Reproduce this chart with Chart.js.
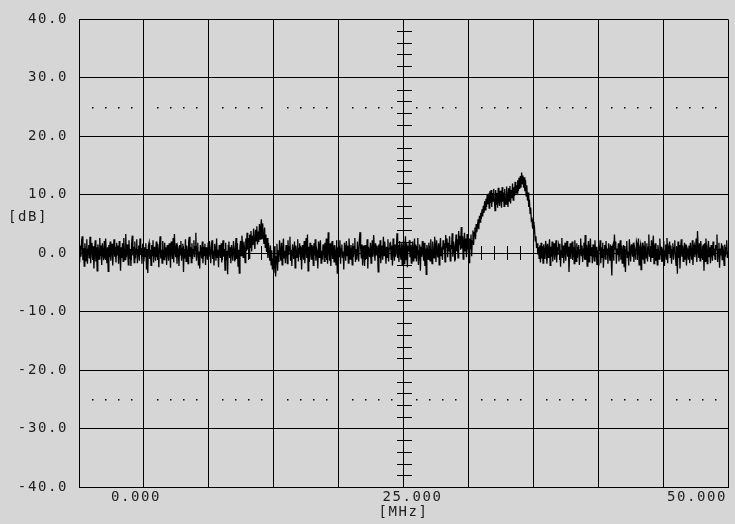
<!DOCTYPE html>
<html>
<head>
<meta charset="utf-8">
<script src="https://cdn.jsdelivr.net/npm/chart.js@4.4.1/dist/chart.umd.min.js"></script>
<style>
    html, body { margin: 0; padding: 0; background: #d6d6d6; }
    #wrap { width: 735px; height: 524px; position: relative; }
</style>
</head>
<body>
<div id="wrap"><canvas id="spectrum"></canvas></div>
<script>
// Sweep settings (one reading every 0.05 MHz)
const startMHz = 0;
const stopMHz = 50;
const stepMHz = 0.05;

// Trace levels in dB, 20 per MHz
const levelDb = [
    0.4, -1.6, 1.3, -0.6, 2.1, 2.9, -1.2, 0.9, -2.2, 1.7, 0.5, -1.3, 2.4, -1.8, 0.7, 1.4, -0.9, 2.8, -1.7, 0.6,
    1.8, -0.8, 1.2, -2.6, 0.3, 2.2, -1.4, 1.0, -3.0, 1.5, 0.6, -1.0, 2.6, -0.5, 1.3, -2.0, 1.7, 0.2, -1.2, 2.1,
    -0.9, 2.5, 0.4, -1.7, 1.0, -3.1, 1.4, -0.7, 2.0, -1.3, 0.8, 1.6, -2.1, 0.3, 2.4, -0.6, 1.1, -1.6, 1.8, -0.3,
    1.3, -1.8, 2.1, 0.6, -3.0, 1.0, -0.8, 1.7, -1.4, 2.6, 0.4, -1.1, 3.3, -0.7, 1.5, 0.3, -2.0, 2.2, -1.0, 0.7,
    -2.2, 1.4, 3.0, -0.4, 1.1, -1.6, 2.0, -0.9, 0.7, 2.4, -1.7, 0.6, 1.3, -1.3, 2.5, -0.3, 0.9, -1.8, 1.6, 0.4,
    -1.4, 1.0, -0.6, 1.7, -2.8, 0.7, -3.4, 1.3, 1.8, -1.0, 0.6, -2.1, 1.4, -0.4, 2.2, -1.6, 1.1, 0.3, -1.3, 2.0,
    -0.7, 1.6, 0.4, -2.4, 1.3, 2.9, -0.9, 0.6, -1.7, 2.1, 0.2, -1.1, 1.8, -0.6, 1.0, -2.0, 1.4, 0.7, -1.3, 1.7,
    0.8, -2.5, 2.0, 0.3, -1.0, 2.6, -1.6, 3.3, 0.4, -0.7, 1.7, -1.8, 1.1, 0.6, -2.2, 1.4, -0.3, 2.1, -1.3, 0.8,
    1.6, -3.2, 0.7, -0.9, 2.4, -1.4, 1.3, 0.4, -1.8, 2.0, 2.8, -0.6, 1.0, -1.6, 1.7, -1.0, 0.6, 2.2, -0.7, 1.1,
    3.5, -1.3, 0.8, 1.8, -2.1, 0.3, -2.6, 1.4, 0.7, -0.9, 2.0, -1.7, 1.1, -0.4, 1.6, -2.0, 1.0, 0.3, -1.1, 1.8,
    -0.6, 2.1, 0.2, -1.7, 1.3, 2.2, -1.0, 0.4, -2.1, 1.6, 0.8, -1.3, 2.5, -0.7, 0.6, -2.4, 1.4, 0.3, -0.8, 1.7,
    -1.6, 1.1, 2.2, -0.6, 0.7, -2.9, 1.8, -1.1, 0.4, -3.6, 1.3, 2.0, -0.8, 1.0, -1.7, 1.4, 0.3, -1.3, 2.1, 0.6,
    -1.4, 0.8, 2.6, -1.0, 1.7, -2.2, 0.6, -3.4, 1.1, 2.1, -0.4, 3.0, 1.3, -0.7, 2.0, 0.8, -1.6, 2.5, 0.4, 3.5,
    0.6, 2.6, -0.9, 3.2, 1.0, 3.8, 0.3, 3.0, 1.4, 4.2, 1.8, 0.7, 4.0, 2.1, 4.6, 1.5, 3.7, 1.9, 5.0, 2.4,
    4.3, 5.8, 2.5, 5.1, 3.0, 1.6, 4.4, 1.0, 3.2, 0.2, 2.6, -0.8, 1.8, 0.1, -1.3, 1.3, -2.0, 0.5, -2.8, -0.9,
    -3.4, 1.2, -2.2, -4.0, -0.6, 1.6, -3.0, 0.5, -1.5, 2.2, 0.3, -1.3, 1.8, -2.0, 0.8, 2.5, -0.8, 0.4, -1.7, 1.4,
    0.7, -1.8, 2.2, -0.3, 1.1, 2.8, -1.3, 0.6, -2.2, 1.5, 0.3, -1.0, 2.0, -2.5, 1.3, 0.4, -0.7, 2.4, -1.4, 0.8,
    1.7, -0.6, 1.0, -2.8, 1.4, 0.4, -1.1, 2.1, -1.7, 0.7, 2.6, -0.8, 3.2, -3.0, 1.1, -1.5, 1.8, 0.3, -1.0, 1.4,
    0.6, -2.1, 1.7, -0.4, 2.4, -1.3, 0.8, 0.2, -2.6, 2.0, -0.7, 1.3, 2.2, -1.7, 0.4, -1.1, 1.5, 0.7, -1.4, 1.8,
    -0.8, 2.5, 0.3, -1.8, 3.6, 0.8, -1.3, 1.7, -2.2, 0.6, 2.1, -1.0, 1.3, -1.5, 1.4, 0.4, -2.0, 2.2, -3.4, 0.7,
    1.1, -0.6, 2.2, -1.8, 0.8, 1.5, -0.8, 0.3, -2.8, 1.8, 1.0, -1.3, 2.1, -0.4, 1.3, -1.7, 2.5, 0.6, -1.0, 1.4,
    0.4, -2.0, 1.7, -0.7, 1.1, 2.6, -1.5, 0.7, -1.1, 2.0, 0.1, -1.4, 2.4, 3.6, 0.8, -0.8, 1.5, -2.1, 1.3, 0.6,
    -2.2, 1.4, 0.3, -1.0, 2.4, -2.6, 1.1, 0.4, -0.7, 1.8, -1.7, 0.8, 2.2, -0.6, 3.1, 1.0, -1.3, 1.7, -0.3, 1.3,
    0.6, -3.2, 1.5, -0.8, 2.2, -1.7, 0.4, 1.3, -1.1, 2.8, -0.4, 2.0, 0.7, -1.8, 1.1, -0.7, 2.4, -1.4, 0.8, 1.7,
    1.8, -1.0, 1.3, -2.1, 2.5, 0.3, -1.3, 1.5, -0.6, 0.8, 3.4, -0.8, 1.4, -1.5, 2.1, 0.4, -1.1, 1.7, -2.0, 1.0,
    2.1, -1.8, 0.6, 2.9, -1.1, 1.7, -2.4, 1.3, 0.3, 2.2, -0.7, 1.4, -1.7, 0.8, 2.0, -1.3, 0.4, 2.5, -0.8, 1.5,
    -1.4, 1.0, 2.6, -2.0, 0.4, 1.5, -3.0, 1.1, -0.6, 2.1, 0.3, -1.3, 1.8, -2.2, 0.8, -3.6, 1.4, 0.6, -1.0, 1.8,
    0.8, -1.3, 2.4, 0.3, -1.8, 2.0, 0.7, -0.8, 2.8, 1.3, -1.5, 2.2, 0.1, -0.7, 1.7, -2.0, 1.1, 2.6, -0.4, 1.0,
    -1.1, 2.2, 0.6, 1.7, -1.5, 3.1, 1.0, 2.5, -0.7, 1.8, 0.3, 2.9, -1.3, 1.4, 0.7, 3.4, -0.6, 2.0, 1.1, -1.4,
    1.3, 3.2, 0.3, 2.4, -0.8, 3.8, 1.5, 3.0, 0.6, 4.5, 0.8, 2.9, -1.0, 2.0, 3.5, 0.4, 2.5, -0.7, 3.3, 1.1,
    0.4, -1.6, 2.5, 0.8, 3.2, -0.5, 2.1, 3.9, 1.4, 3.5, 4.4, 2.4, 5.0, 3.6, 4.7, 5.8, 4.1, 6.4, 5.3, 6.9,
    5.9, 7.5, 6.3, 8.1, 6.9, 8.9, 7.4, 9.3, 7.9, 10.0, 8.4, 10.2, 7.7, 10.6, 8.6, 10.8, 7.9, 10.3, 8.9, 11.0,
    9.1, 7.3, 10.8, 8.4, 10.3, 7.8, 11.2, 9.0, 8.1, 10.7, 9.4, 7.8, 11.3, 8.8, 10.4, 8.0, 11.0, 9.2, 8.4, 11.4,
    9.5, 7.9, 11.1, 8.9, 11.5, 8.5, 10.8, 9.4, 11.9, 9.1, 11.3, 9.8, 12.2, 10.2, 11.6, 10.3, 12.5, 10.6, 12.9, 11.0,
    13.2, 11.2, 13.8, 11.9, 13.3, 11.2, 13.0, 10.6, 12.5, 9.8, 11.6, 9.0, 10.4, 7.9, 9.2, 6.8, 7.8, 5.6, 5.8, 4.2,
    5.4, 3.4, 4.0, 2.1, 2.9, 0.9, 1.7, -0.2, 1.0, -0.9, 1.3, -1.6, 1.8, -0.9, 1.2, -1.7, 1.5, 0.3, -1.0, 2.1,
    0.8, -1.8, 1.6, -0.7, 0.3, 2.4, -2.1, 1.1, -0.6, 2.0, -1.4, 0.7, 1.7, -1.1, 0.4, 2.2, -1.6, 1.0, -0.3, 1.4,
    0.7, 1.6, -2.3, 0.4, 2.6, -0.8, 1.3, -1.7, 0.6, 1.8, -1.3, 0.8, 2.1, -0.6, 1.1, -3.2, 0.3, 1.7, -1.0, 0.8,
    2.0, -0.7, 1.1, -1.8, 2.2, 0.3, -1.4, 1.7, -0.8, 1.0, 1.4, -2.0, 0.6, 2.5, -0.4, 1.3, -1.5, 0.7, 1.8, -1.1,
    3.1, -1.1, 1.4, -2.2, 0.6, 2.1, -1.5, 0.8, 2.5, -0.4, 1.0, -1.7, 1.5, 0.3, -1.3, 2.2, -0.7, 1.1, -2.0, 0.6,
    -2.0, 1.3, 0.4, 2.2, -1.7, 1.0, -0.7, 1.8, -2.5, 0.6, 1.4, -1.0, 2.1, -0.3, 0.8, -1.8, 1.7, 0.4, -1.3, 1.5,
    -0.8, -3.8, 1.1, 1.5, -1.3, 3.2, 0.7, 2.0, -1.8, 0.8, -0.3, 1.7, -1.4, 0.6, 2.2, -1.1, 1.3, -1.7, 0.4, 1.4,
    -2.3, 0.7, -3.2, 1.1, 2.1, -0.8, 0.3, -2.1, 2.4, 0.6, -1.4, 1.5, 0.8, -0.6, 1.8, -1.5, 1.0, 0.3, -1.1, 2.0,
    1.5, -0.4, 2.5, -2.0, 0.8, 1.4, -2.8, 0.7, 1.8, -1.1, 1.3, -1.7, 2.1, 0.4, -0.8, 1.7, -1.4, 1.0, 3.2, -0.6,
    0.6, -1.5, 2.2, -0.7, 1.3, 3.0, -1.8, 1.0, 1.7, -1.3, 0.7, -2.0, 1.4, 0.3, -1.0, 2.5, -0.4, 1.1, -1.5, 0.8,
    -1.3, 2.1, -2.2, 0.4, 1.5, -1.0, 2.6, -1.7, 0.8, 0.1, 2.0, -0.7, 1.3, -1.8, 0.6, 1.7, -1.1, 1.0, 2.2, -0.6,
    -2.1, 1.1, -3.5, 2.0, -0.8, 1.4, -2.6, 0.7, 2.4, -0.6, 1.3, -1.4, 0.4, 1.8, -1.0, 1.5, -2.1, 0.8, 0.3, -1.1,
    1.3, -1.7, 1.8, 0.3, -1.1, 2.2, -2.0, 1.0, 1.4, -0.7, 0.6, 2.5, -1.5, 3.8, 0.8, -0.8, 1.7, -1.3, 2.1, 0.4,
    -0.8, 0.7, 1.5, -3.0, 1.7, -1.4, 2.5, 0.4, -1.8, 1.1, 2.1, -0.6, 1.0, -1.7, 1.4, 0.3, -1.3, 2.0, -0.4, 0.8,
    -1.0, 1.4, 0.6, 3.2, -1.5, 0.6, 1.8, -2.5, 0.8, -0.4, 1.7, -1.1, 1.3, 0.3, -2.1, 1.5, -0.6, 1.0, 2.2, -0.8,
    0.3
];

// Axis labels as shown on the instrument
const freqLabels = ['0.000', '25.000', '50.000'];
const freqMarks = [0, 25, 50];
const dbMin = -40;
const dbMax = 40;
const refLineDb = [25, -25];

const textColor = '#1e1e1e';
const monoFont = "'DejaVu Sans Mono', 'Liberation Mono', monospace";

const points = levelDb.map((v, i) => ({ x: startMHz + i * stepMHz, y: v }));

// Center axis ticks, dotted reference lines and the text labels
const screenDecor = {
    id: 'screenDecor',
    beforeDraw(chart) {
        chart.ctx.letterSpacing = '1.6px';
    },
    beforeDatasetsDraw(chart) {
        const { ctx, scales: { x, y } } = chart;
        const xc = Math.round(x.getPixelForValue(25));
        const y0 = Math.round(y.getPixelForValue(0));
        ctx.save();
        ctx.strokeStyle = '#000';
        ctx.lineWidth = 1;
        ctx.beginPath();
        // 2 dB ticks on the center line
        for (let d = dbMin + 2; d < dbMax; d += 2) {
            if (d % 10 === 0) continue;
            const py = Math.round(y.getPixelForValue(d)) + 0.5;
            ctx.moveTo(xc - 7, py);
            ctx.lineTo(xc + 8, py);
        }
        // 1 MHz ticks on the 0 dB line
        for (let f = startMHz + 1; f < stopMHz; f++) {
            if (f % 5 === 0) continue;
            const px = Math.round(x.getPixelForValue(f)) + 0.5;
            ctx.moveTo(px, y0 - 7);
            ctx.lineTo(px, y0 + 7);
        }
        ctx.stroke();

        // dotted lines at +/-25 dB
        ctx.fillStyle = '#000';
        refLineDb.forEach(d => {
            const py = Math.round(y.getPixelForValue(d));
            for (let f = startMHz + 1; f < stopMHz; f++) {
                if (f % 5 === 0) continue;
                const px = Math.round(x.getPixelForValue(f));
                ctx.fillRect(px, py, 1.5, 1.5);
            }
        });
        ctx.restore();
    },
    afterDraw(chart) {
        const { ctx, chartArea: a, scales: { x } } = chart;
        ctx.save();
        ctx.letterSpacing = '1.6px';
        ctx.font = '14px ' + monoFont;
        ctx.fillStyle = textColor;
        ctx.textBaseline = 'middle';
        ctx.textAlign = 'center';
        const offsets = [57, 9, -31];
        freqMarks.forEach((f, i) => {
            ctx.fillText(freqLabels[i], x.getPixelForValue(f) + offsets[i], a.bottom + 10);
        });
        ctx.fillText('[MHz]', x.getPixelForValue(25), a.bottom + 25);
        ctx.textAlign = 'left';
        ctx.fillText('[dB]', 8, 217);
        ctx.restore();
    }
};

new Chart(document.getElementById('spectrum'), {
    type: 'line',
    data: {
        datasets: [{
            data: points,
            borderColor: '#000',
            borderWidth: 1.3,
            pointRadius: 0,
            tension: 0,
            fill: false
        }]
    },
    options: {
        responsive: true,
        maintainAspectRatio: false,
        animation: false,
        layout: { padding: { top: 18, right: 7 } },
        plugins: {
            legend: { display: false },
            tooltip: { enabled: false }
        },
        scales: {
            x: {
                type: 'linear',
                min: startMHz,
                max: stopMHz,
                ticks: { stepSize: 5, display: false },
                grid: { color: '#000', lineWidth: 1, drawTicks: false },
                border: { color: '#000' },
                afterFit: s => { s.height = 37; }
            },
            y: {
                min: dbMin,
                max: dbMax,
                ticks: {
                    stepSize: 10,
                    padding: 11,
                    color: textColor,
                    font: { family: monoFont, size: 14 },
                    callback: v => v.toFixed(1)
                },
                grid: { color: '#000', lineWidth: 1, drawTicks: false },
                border: { color: '#000' },
                afterFit: s => { s.width = 79; }
            }
        }
    },
    plugins: [screenDecor]
});
</script>
</body>
</html>
